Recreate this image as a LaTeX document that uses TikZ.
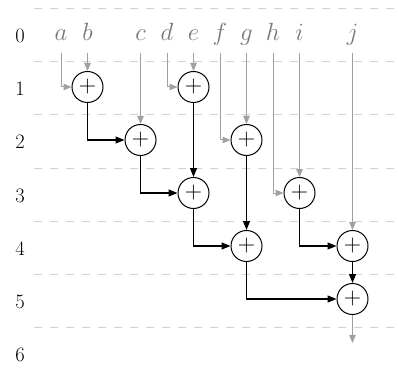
\documentclass[tikz,border=0pt]{standalone}
\usetikzlibrary{arrows.meta}
\definecolor{linegray}{RGB}{160,160,160}
\definecolor{labgray}{RGB}{120,120,120}
\definecolor{dashgray}{RGB}{210,210,210}
\begin{document}
\begin{tikzpicture}[x=1pt,y=-1pt,
  rowlab/.style={anchor=base,font=\fontsize{20.5}{24}\selectfont},
  inlab/.style={anchor=base,text=labgray,font=\fontsize{23}{26}\selectfont,inner sep=0pt},
  adder/.style={circle,draw,line width=1pt,minimum size=31pt,inner sep=0pt,font=\fontsize{24}{24}\selectfont},
  grid/.style={dashgray,line width=1pt,dash pattern=on 8pt off 8pt},
  feed/.style={linegray,line width=1pt,-{Triangle[length=8pt,width=6.5pt]}},
  wire/.style={black,line width=1.1pt,-{Triangle[length=9pt,width=7pt]}}]
\useasboundingbox (0,0) rectangle (398,374);
% dashed separators
\foreach \k in {0,...,6}
  \draw[grid] (34,{9+53*\k}) -- (398,{9+53*\k});
% row labels
\foreach \k in {0,...,6}
  \node[rowlab] (r\k) at (20,{43+53*\k}) {\k};
% input letters
\foreach \n/\l in {0/a,1/b,3/c,4/d,5/e,6/f,7/g,8/h,9/i,11/j}
  \node[inlab] (\l) at ({61+26.5*\n},41) {$\l$};
\foreach \n/\l in {0/a,1/b,3/c,4/d,5/e,6/f,7/g,8/h,9/i,11/j}
  \coordinate (\l s) at ({61+26.5*\n},53);
% adders
\node[adder] (b1) at (87.5,87) {+};
\node[adder] (e1) at (193.5,87) {+};
\node[adder] (c2) at (140.5,140) {+};
\node[adder] (g2) at (246.5,140) {+};
\node[adder] (e3) at (193.5,193) {+};
\node[adder] (i3) at (299.5,193) {+};
\node[adder] (g4) at (246.5,246) {+};
\node[adder] (j4) at (352.5,246) {+};
\node[adder] (j5) at (352.5,299) {+};
\coordinate (out) at (352.5,343);
% gray feeds
\draw[feed] (as) |- (b1);
\draw[feed] (bs) -- (b1);
\draw[feed] (cs) -- (c2);
\draw[feed] (ds) |- (e1);
\draw[feed] (es) -- (e1);
\draw[feed] (fs) |- (g2);
\draw[feed] (gs) -- (g2);
\draw[feed] (hs) |- (i3);
\draw[feed] (is) -- (i3);
\draw[feed] (js) -- (j4);
\draw[feed] (j5) -- (out);
% black wires
\draw[wire] (b1) |- (c2);
\draw[wire] (e1) -- (e3);
\draw[wire] (c2) |- (e3);
\draw[wire] (g2) -- (g4);
\draw[wire] (e3) |- (g4);
\draw[wire] (i3) |- (j4);
\draw[wire] (j4) -- (j5);
\draw[wire] (g4) |- (j5);
\end{tikzpicture}
\end{document}
